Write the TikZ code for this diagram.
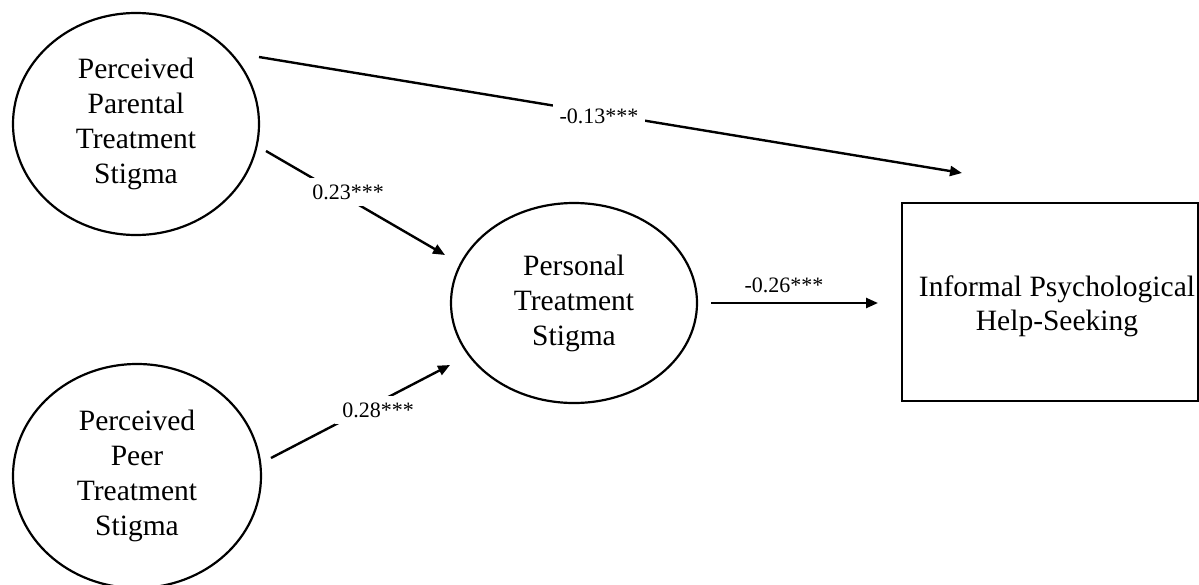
\documentclass[tikz,border=0pt]{standalone}
\usepackage{fontspec}
\setmainfont{Liberation Serif}
\usetikzlibrary{shapes.geometric,arrows.meta}
\begin{document}
\begin{tikzpicture}[x=1pt,y=-1pt,
  construct/.style={draw,ellipse,line width=2.2pt,inner sep=0pt,align=center,
    font=\fontsize{29.5}{35}\selectfont},
  outcome/.style={draw,rectangle,line width=2.2pt,inner sep=0pt},
  outtext/.style={align=center,inner sep=0pt,font=\fontsize{29.5}{34}\selectfont},
  path/.style={line width=2.4pt,-{Triangle[length=12pt,width=10pt]}},
  coef/.style={fill=white,inner sep=7pt,font=\fontsize{22}{26}\selectfont}]
\useasboundingbox (0,0) rectangle (1199,584);

% latent constructs
\node[construct,minimum width=246pt,minimum height=222pt] (parent) at (136,124)
  {Perceived\\Parental\\Treatment\\Stigma};
\node[construct,minimum width=248pt,minimum height=224pt] (peer) at (137,476)
  {Perceived\\Peer\\Treatment\\Stigma};
\node[construct,minimum width=246pt,minimum height=200pt] (personal) at (574,303)
  {Personal\\Treatment\\Stigma};

% observed outcome
\node[outcome,minimum width=296pt,minimum height=198pt] (help) at (1050,302) {};
\node[outtext] (helptext) at (1057,306) {Informal Psychological\\Help-Seeking};

% direct path
\coordinate (dirA) at (259,57);
\coordinate (dirB) at (962,173);
\draw[path] (dirA) -- (dirB);
\node[coef] (c13) at (599,116) {-0.13***};

% parental -> personal
\coordinate (parA) at (266,151);
\coordinate (parB) at (445,255);
\draw[path] (parA) -- (parB);
\node[coef] (c23) at (348,192) {0.23***};

% peer -> personal
\coordinate (peerA) at (271,458);
\coordinate (peerB) at (450,365);
\draw[path] (peerA) -- (peerB);
\node[coef] (c28) at (378,410) {0.28***};

% personal -> help-seeking
\coordinate (perA) at (711,303);
\coordinate (perB) at (878,303);
\draw[path] (perA) -- (perB);
\node[font=\fontsize{22}{26}\selectfont,inner sep=0pt] (c26) at (784,285) {-0.26***};
\end{tikzpicture}
\end{document}
